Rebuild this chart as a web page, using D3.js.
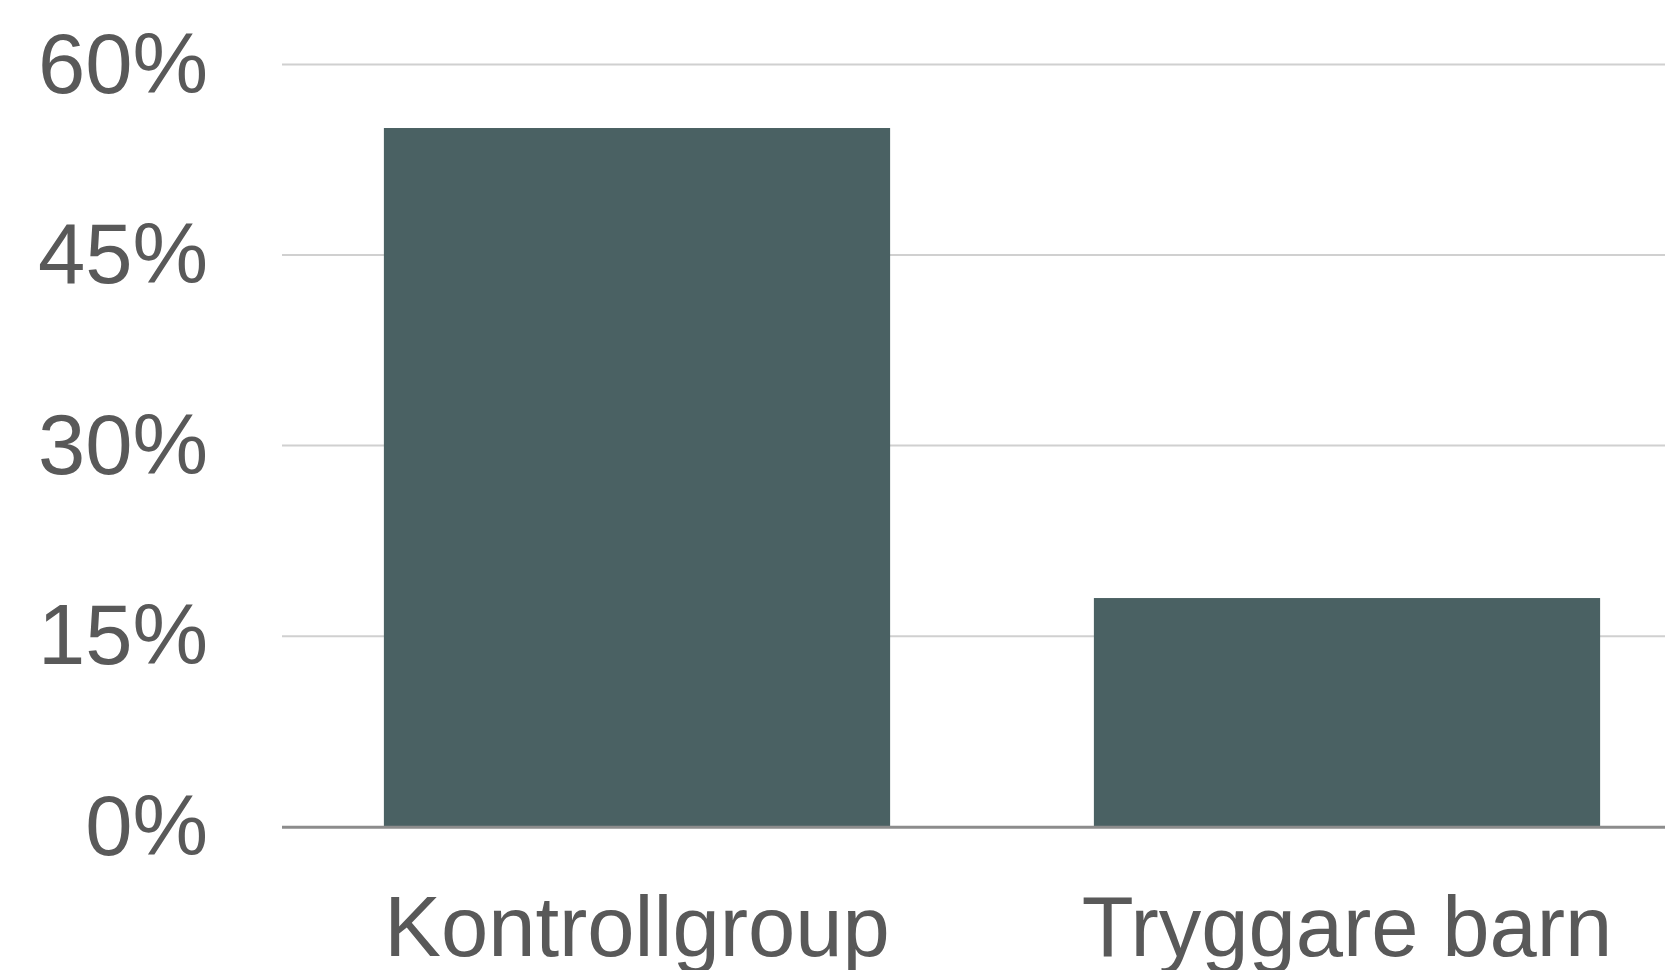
<!DOCTYPE html>
<html>
<head>
<meta charset="utf-8">
<script src="https://cdn.jsdelivr.net/npm/d3@7"></script>
<style>
  body { margin: 0; background: #fff; overflow: hidden; }
  svg { display: block; }
</style>
</head>
<body>
<script>
'use strict';

// chart data
const categories = ["Kontrollgroup", "Tryggare barn"];
const values = [0.55, 0.18];
const yTicks = [0, 0.15, 0.30, 0.45, 0.60];

(function() {
  const width = 1665, height = 970;
  const margin = {top: 64.5, left: 282, bottom: 143.3};

  const svg = d3.select("body")
    .append("svg")
    .attr("width", width)
    .attr("height", height);

  // band runs past the right edge, like the cropped original
  const x = d3.scaleBand()
    .domain(categories)
    .range([margin.left, 1702])
    .paddingInner(0.287)
    .paddingOuter(0.1435);

  const y = d3.scaleLinear()
    .domain([0, 0.6])
    .range([height - margin.bottom, margin.top]);

  // gridlines
  svg.append("g")
    .selectAll("line")
    .data(yTicks.filter(d => d > 0))
    .enter()
    .append("line")
      .attr("x1", margin.left)
      .attr("x2", width)
      .attr("y1", d => y(d))
      .attr("y2", d => y(d))
      .attr("stroke", "#d0d0d0")
      .attr("stroke-width", 2);

  // y labels
  svg.append("g")
    .selectAll("text")
    .data(yTicks)
    .enter()
    .append("text")
      .attr("x", 208)
      .attr("y", d => y(d) + 28)
      .attr("text-anchor", "end")
      .attr("font-family", "'Liberation Sans', Arial, sans-serif")
      .attr("font-size", "85px")
      .attr("fill", "#595959")
      .text(d => d3.format(".0%")(d));

  // bars
  svg.append("g")
    .selectAll("rect")
    .data(values)
    .enter()
    .append("rect")
      .attr("x", (d, i) => x(categories[i]))
      .attr("width", x.bandwidth())
      .attr("y", d => y(d))
      .attr("height", d => y(0) - y(d))
      .attr("fill", "#4a6163");

  // baseline axis
  svg.append("line")
    .attr("x1", margin.left)
    .attr("x2", width)
    .attr("y1", y(0) + 0.5)
    .attr("y2", y(0) + 0.5)
    .attr("stroke", "#8c8c8c")
    .attr("stroke-width", 3);

  // category labels
  svg.append("g")
    .selectAll("text")
    .data(categories)
    .enter()
    .append("text")
      .attr("x", d => x(d) + x.bandwidth() / 2)
      .attr("y", 955.5)
      .attr("text-anchor", "middle")
      .attr("font-family", "'Liberation Sans', Arial, sans-serif")
      .attr("font-size", "85px")
      .attr("fill", "#595959")
      .text(d => d);
})();
</script>
</body>
</html>
